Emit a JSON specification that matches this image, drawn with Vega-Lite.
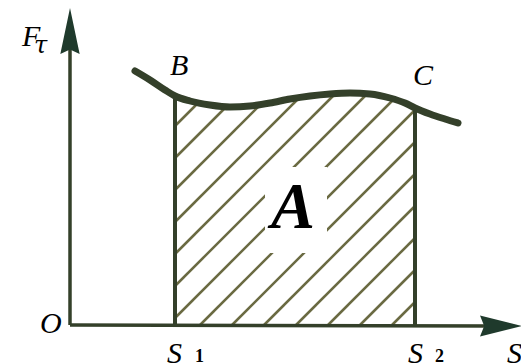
{
  "$schema": "https://vega.github.io/schema/vega-lite/v6.json",
  "width": 521,
  "height": 363,
  "autosize": {"type": "none"},
  "padding": 0,
  "background": "white",
  "config": {"view": {"stroke": null}},
  "datasets": {
    "curve": [
      {"X": 65, "F": 254}, {"X": 80, "F": 245}, {"X": 95, "F": 235}, {"X": 105, "F": 229},
      {"X": 120, "F": 224}, {"X": 140, "F": 220}, {"X": 160, "F": 218}, {"X": 180, "F": 219},
      {"X": 200, "F": 222}, {"X": 220, "F": 226}, {"X": 240, "F": 229}, {"X": 260, "F": 231},
      {"X": 280, "F": 232}, {"X": 300, "F": 231}, {"X": 320, "F": 227}, {"X": 335, "F": 222},
      {"X": 345, "F": 217}, {"X": 360, "F": 211}, {"X": 375, "F": 206}, {"X": 388, "F": 202}
    ],
    "hatch": [
      {"X": 322, "F": 0, "X2": 345, "F2": 23},
      {"X": 290, "F": 0, "X2": 345, "F2": 55},
      {"X": 258, "F": 0, "X2": 345, "F2": 87},
      {"X": 226, "F": 0, "X2": 345, "F2": 119},
      {"X": 194, "F": 0, "X2": 345, "F2": 151},
      {"X": 162, "F": 0, "X2": 345, "F2": 183},
      {"X": 130, "F": 0, "X2": 345, "F2": 215},
      {"X": 105, "F": 7, "X2": 335, "F2": 237},
      {"X": 105, "F": 39, "X2": 303, "F2": 237},
      {"X": 105, "F": 71, "X2": 271, "F2": 237},
      {"X": 105, "F": 103, "X2": 239, "F2": 237},
      {"X": 105, "F": 135, "X2": 207, "F2": 237},
      {"X": 105, "F": 167, "X2": 175, "F2": 237},
      {"X": 105, "F": 199, "X2": 143, "F2": 237},
      {"X": 105, "F": 231, "X2": 111, "F2": 237}
    ],
    "edges": [
      {"X": 105, "F": 0, "X2": 105, "F2": 229},
      {"X": 345, "F": 0, "X2": 345, "F2": 217}
    ],
    "axes": [
      {"X": 0, "F": 0, "X2": 0, "F2": 290},
      {"X": 0, "F": 0, "X2": 425, "F2": -1}
    ],
    "box": [{"X": 195, "F": 72, "X2": 257, "F2": 158}],
    "arrows": [
      {"X": 0, "F": 294, "dir": "up"},
      {"X": 431, "F": -1, "dir": "right"}
    ],
    "labels": [
      {"X": -48, "F": 279, "text": "F"},
      {"X": 100, "F": 250, "text": "B"},
      {"X": 343, "F": 240, "text": "C"},
      {"X": -30, "F": -8, "text": "O"},
      {"X": 97, "F": -38, "text": "S"},
      {"X": 338, "F": -38, "text": "S"},
      {"X": 437, "F": -38, "text": "S"}
    ],
    "subs": [
      {"X": -36, "F": 272, "text": "τ", "kind": "greek"},
      {"X": 125, "F": -37, "text": "1", "kind": "digit"},
      {"X": 365, "F": -37, "text": "2", "kind": "digit"}
    ],
    "area": [{"X": 223, "F": 97, "text": "A"}]
  },
  "encoding": {
    "x": {"field": "X", "type": "quantitative", "scale": {"domain": [-70, 451], "nice": false, "zero": false}, "axis": null},
    "y": {"field": "F", "type": "quantitative", "scale": {"domain": [-38, 325], "nice": false, "zero": false}, "axis": null}
  },
  "layer": [
    {
      "data": {"name": "hatch"},
      "mark": {"type": "rule", "color": "#6a6a42", "strokeWidth": 2.5},
      "encoding": {"x2": {"field": "X2"}, "y2": {"field": "F2"}}
    },
    {
      "data": {"name": "curve"},
      "transform": [{"filter": "datum.X >= 105 && datum.X <= 345"}],
      "mark": {"type": "area", "color": "white", "opacity": 1, "interpolate": "monotone"},
      "encoding": {"y2": {"datum": 242}}
    },
    {
      "data": {"name": "box"},
      "mark": {"type": "rect", "color": "white", "opacity": 1},
      "encoding": {"x2": {"field": "X2"}, "y2": {"field": "F2"}}
    },
    {
      "data": {"name": "area"},
      "mark": {"type": "text", "font": "serif", "fontStyle": "italic", "fontWeight": "bold", "fontSize": 66, "align": "center", "baseline": "alphabetic", "color": "black"},
      "encoding": {"text": {"field": "text"}}
    },
    {
      "data": {"name": "edges"},
      "mark": {"type": "rule", "color": "#34402a", "strokeWidth": 4},
      "encoding": {"x2": {"field": "X2"}, "y2": {"field": "F2"}}
    },
    {
      "data": {"name": "axes"},
      "mark": {"type": "rule", "color": "#34402a", "strokeWidth": 3.5},
      "encoding": {"x2": {"field": "X2"}, "y2": {"field": "F2"}}
    },
    {
      "data": {"name": "arrows"},
      "transform": [{"filter": "datum.dir === 'up'"}],
      "mark": {"type": "point", "shape": "M0,-1L0.42,1L0,0.8L-0.42,1Z", "size": 2116, "filled": true, "color": "#1f3a2c", "opacity": 1}
    },
    {
      "data": {"name": "arrows"},
      "transform": [{"filter": "datum.dir === 'right'"}],
      "mark": {"type": "point", "shape": "M1,0L-1,-0.5L-0.8,0L-1,0.5Z", "size": 1764, "filled": true, "color": "#1f3a2c", "opacity": 1}
    },
    {
      "data": {"name": "curve"},
      "mark": {"type": "line", "color": "#34402a", "strokeWidth": 7, "strokeCap": "round", "interpolate": "monotone"}
    },
    {
      "data": {"name": "labels"},
      "mark": {"type": "text", "font": "Times New Roman", "fontStyle": "italic", "fontSize": 30, "align": "left", "baseline": "alphabetic", "color": "black"},
      "encoding": {"text": {"field": "text"}}
    },
    {
      "data": {"name": "subs"},
      "transform": [{"filter": "datum.kind === 'greek'"}],
      "mark": {"type": "text", "font": "DejaVu Serif", "fontStyle": "italic", "fontSize": 24, "align": "left", "baseline": "alphabetic", "color": "black"},
      "encoding": {"text": {"field": "text"}}
    },
    {
      "data": {"name": "subs"},
      "transform": [{"filter": "datum.kind === 'digit'"}],
      "mark": {"type": "text", "font": "Times New Roman", "fontWeight": "bold", "fontSize": 18, "align": "left", "baseline": "alphabetic", "color": "black"},
      "encoding": {"text": {"field": "text"}}
    }
  ]
}
